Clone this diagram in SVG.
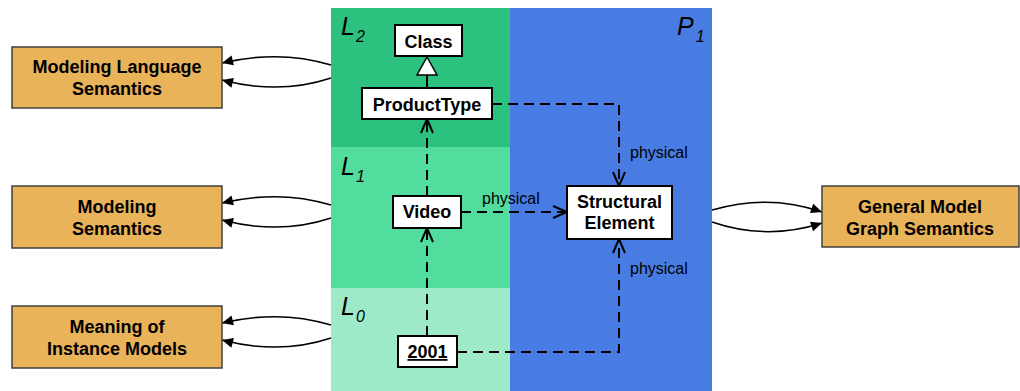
<svg xmlns="http://www.w3.org/2000/svg" width="1020" height="391" viewBox="0 0 1020 391">
<style>
.sem rect{fill:#e9b35a;stroke:#404040;stroke-width:1.5}
.sem text{font-family:"Liberation Sans",Arial,sans-serif;font-weight:bold;font-size:18px;fill:#000;text-anchor:middle}
.nd rect{fill:#fff;stroke:#000;stroke-width:2}
.nd text{font-family:"Liberation Sans",Arial,sans-serif;font-weight:bold;font-size:18px;fill:#000;text-anchor:middle}
.lvl{font-family:"Liberation Sans",Arial,sans-serif;font-style:italic;font-size:25px;fill:#000}
.lvl tspan.s{font-size:16px}
.lbl{font-family:"Liberation Sans",Arial,sans-serif;font-size:16px;fill:#000}
.dash{fill:none;stroke:#000;stroke-width:2;stroke-dasharray:10,6}
.curve{fill:none;stroke:#000;stroke-width:1.5}
</style>
<defs>
<marker id="open" markerUnits="userSpaceOnUse" markerWidth="16" markerHeight="14" refX="14" refY="6" orient="auto" overflow="visible">
<path d="M0,0 L14,6 L0,12" fill="none" stroke="#000" stroke-width="2" stroke-dasharray="none"/>
</marker>
<marker id="solid" markerUnits="userSpaceOnUse" markerWidth="12" markerHeight="11" refX="11" refY="5" orient="auto" overflow="visible">
<path d="M0,0 L11,5 L0,10 z" fill="#000" stroke="none"/>
</marker>
</defs>
<rect width="1020" height="391" fill="#fff"/>
<g id="bands">
<rect x="331" y="8" width="179" height="139" fill="#2cc17e"/>
<rect x="331" y="147" width="179" height="141" fill="#52dd9f"/>
<rect x="331" y="288" width="179" height="103" fill="#9eeac8"/>
<rect x="510" y="8" width="202" height="383" fill="#487ce2"/>
<text class="lvl" x="341" y="35">L<tspan class="s" dx="1" dy="7">2</tspan></text>
<text class="lvl" x="341" y="175">L<tspan class="s" dx="1" dy="7">1</tspan></text>
<text class="lvl" x="341" y="315">L<tspan class="s" dx="1" dy="7">0</tspan></text>
<text class="lvl" x="677" y="35">P<tspan class="s" dx="2" dy="7">1</tspan></text>
</g>
<g id="connectors">
<line x1="427" y1="75" x2="427" y2="88" stroke="#000" stroke-width="2"/>
<polygon points="427,57 437,75 417,75" fill="#fff" stroke="#000" stroke-width="1.5"/>
<path class="dash" d="M492,104 H619 V186" marker-end="url(#open)"/>
<path class="dash" d="M427,196 V119" marker-end="url(#open)"/>
<path class="dash" d="M461,212 H567" marker-end="url(#open)"/>
<path class="dash" d="M427,336 V228" marker-end="url(#open)"/>
<path class="dash" d="M457,352 H619 V239" marker-end="url(#open)"/>
<text class="lbl" x="630" y="158">physical</text>
<text class="lbl" x="482" y="204">physical</text>
<text class="lbl" x="630" y="274">physical</text>
<path class="curve" d="M331,65 C295,54 260,54 222,63" marker-end="url(#solid)"/>
<path class="curve" d="M331,78 C295,90 260,90 222,80" marker-end="url(#solid)"/>
<path class="curve" d="M331,205 C295,194 260,194 222,203" marker-end="url(#solid)"/>
<path class="curve" d="M331,218 C295,230 260,230 222,220" marker-end="url(#solid)"/>
<path class="curve" d="M331,325 C295,314 260,314 222,323" marker-end="url(#solid)"/>
<path class="curve" d="M331,338 C295,350 260,350 222,340" marker-end="url(#solid)"/>
<path class="curve" d="M712,210 C750,199 785,199 822,212" marker-end="url(#solid)"/>
<path class="curve" d="M712,222 C750,235 785,235 822,223" marker-end="url(#solid)"/>
</g>
<g id="mls" class="sem">
<rect x="12" y="47" width="210" height="61"/>
<text x="117" y="73">Modeling Language</text>
<text x="117" y="95">Semantics</text>
</g>
<g id="ms" class="sem">
<rect x="12" y="186" width="210" height="62"/>
<text x="117" y="213">Modeling</text>
<text x="117" y="235">Semantics</text>
</g>
<g id="mim" class="sem">
<rect x="12" y="306" width="210" height="62"/>
<text x="117" y="333">Meaning of</text>
<text x="117" y="355">Instance Models</text>
</g>
<g id="gmgs" class="sem">
<rect x="822" y="186" width="197" height="61"/>
<text x="920" y="213">General Model</text>
<text x="920" y="235">Graph Semantics</text>
</g>
<g id="class" class="nd">
<rect x="395" y="25" width="67" height="31"/>
<text x="428.5" y="48">Class</text>
</g>
<g id="producttype" class="nd">
<rect x="362" y="88" width="130" height="31"/>
<text x="427" y="111">ProductType</text>
</g>
<g id="video" class="nd">
<rect x="393" y="196" width="68" height="32"/>
<text x="427" y="218">Video</text>
</g>
<g id="n2001" class="nd">
<rect x="398" y="336" width="59" height="31"/>
<text x="427.5" y="358" text-decoration="underline">2001</text>
</g>
<g id="structural" class="nd">
<rect x="567" y="186" width="105" height="53"/>
<text x="619.5" y="208">Structural</text>
<text x="619.5" y="229">Element</text>
</g>
</svg>
